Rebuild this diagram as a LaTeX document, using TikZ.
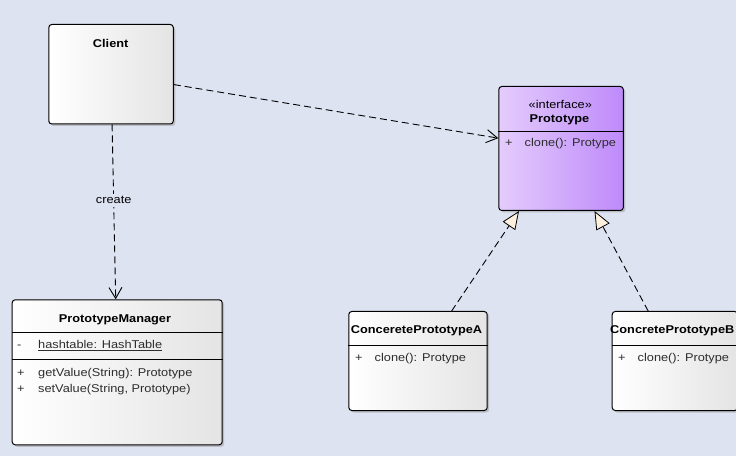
\documentclass[tikz,border=0pt]{standalone}
\usepackage{fontspec}
\setmainfont{Liberation Sans}[FakeStretch=1.13]
\usetikzlibrary{arrows.meta,shadows}
\definecolor{canvas}{RGB}{222,227,241}
\definecolor{boxgray}{RGB}{228,228,228}
\definecolor{ifaceL}{RGB}{228,204,252}
\definecolor{ifaceR}{RGB}{190,138,250}
\definecolor{hollow}{RGB}{253,240,222}
\definecolor{membertext}{RGB}{45,45,45}

\begin{document}
\begin{tikzpicture}[x=1bp, y=-1bp,
  every node/.style={font=\fontsize{11.3bp}{13bp}\selectfont, inner sep=0pt,
    text height=8.5bp, text depth=2.5bp},
  classbox/.style={draw, line width=1bp, rounded corners=3bp, anchor=north west,
    left color=white, right color=boxgray,
    drop shadow={shadow xshift=2bp, shadow yshift=-2bp, fill=black!40, opacity=.5}},
  ifacebox/.style={classbox, left color=ifaceL, right color=ifaceR},
  cname/.style={font=\fontsize{11.3bp}{13bp}\selectfont\bfseries},
  member/.style={anchor=west, text=membertext},
  dep/.style={line width=.9bp, dash pattern=on 7bp off 4bp,
    -{Straight Barb[length=11bp,width=13bp,line width=.9bp]}},
  realize/.style={line width=.9bp, dash pattern=on 7bp off 4bp,
    -{Triangle[length=18bp,width=15bp,fill=hollow,line width=.8bp]}}]
  \fill[canvas] (0,0) rectangle (736,456);
  \useasboundingbox (0,0) rectangle (736,456);
  \clip (0,0) rectangle (736,456);

  % class boxes
  \node[classbox, minimum width=124.5bp, minimum height=99.5bp] (client) at (48.3,24) {};
  \node[ifacebox, minimum width=124.5bp, minimum height=124bp] (proto) at (498.3,86) {};
  \node[classbox, minimum width=210bp, minimum height=145bp] (manager) at (11.7,299.3) {};
  \node[classbox, minimum width=138.4bp, minimum height=99bp] (concA) at (348.3,311) {};
  \node[classbox, minimum width=125.5bp, minimum height=99bp] (concB) at (611.7,311) {};

  % compartment lines
  \draw[line width=1bp] (proto.west |- 0,132) -- (proto.east |- 0,132);
  \draw[line width=1bp] (manager.west |- 0,332.7) -- (manager.east |- 0,332.7);
  \draw[line width=1bp] (manager.west |- 0,359.3) -- (manager.east |- 0,359.3);
  \draw[line width=1bp] (concA.west |- 0,345.5) -- (concA.east |- 0,345.5);
  \draw[line width=1bp] (concB.west |- 0,345.5) -- (concB.east |- 0,345.5);

  % names
  \node[cname] (clientname) at (110.7,45) {Client};
  \node (stereo) at (560.3,105.3) {«interface»};
  \node[cname] (protoname) at (559.5,119.3) {Prototype};
  \node[cname] (managername) at (115,320) {PrototypeManager};
  \node[cname] (concAname) at (416.5,331) {ConceretePrototypeA};
  \node[cname, anchor=west] (concBname) at (610,331) {ConcretePrototypeB};

  % members
  \node[member] (hashvis) at (17,346) {-};
  \node[member] (hash) at (38,346) {\underline{hashtable: HashTable}};
  \foreach \y/\txt in {373/{getValue(String): Prototype}, 389/{setValue(String, Prototype)}} {
    \node[member] (pmvis\y) at (17,\y) {+};
    \node[member] (pm\y) at (38,\y) {\txt};
  }
  \foreach \nm/\x/\y in {proto/505/144, concA/355/359, concB/618/359} {
    \node[member] (\nm vis) at (\x,\y) {+};
    \node[member] (\nm clone) at (\x+19.5,\y) {clone(): Protype};
  }

  % connectors
  \draw[dep] (client) -- (proto);
  \draw[dep] (client) -- node[pos=.436, fill=canvas, inner sep=1bp] (createlbl) {create} (manager);
  \draw[realize] (concA) -- (proto);
  \draw[realize] (concB) -- (proto);
\end{tikzpicture}
\end{document}
